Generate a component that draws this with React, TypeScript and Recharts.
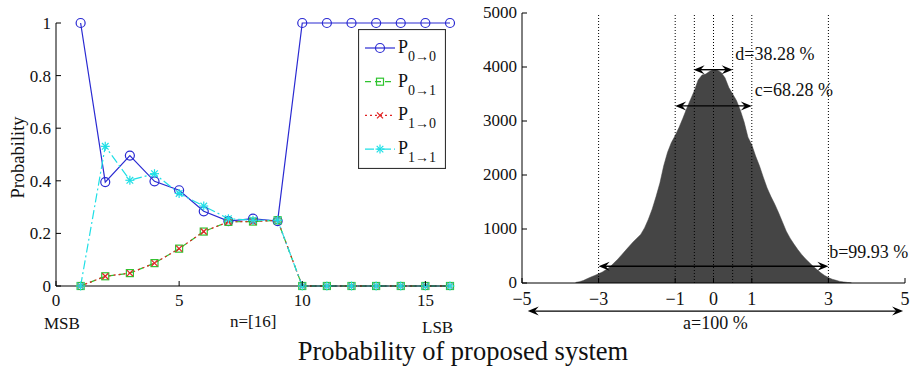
import React from 'react';
import {
  LineChart, Line, XAxis, YAxis, Legend, ComposedChart, Area, ReferenceLine, ReferenceDot,
} from 'recharts';

// ---------- Left chart data ----------
const bitIndex = [1, 2, 3, 4, 5, 6, 7, 8, 9, 10, 11, 12, 13, 14, 15, 16];
const p00 = [1, 0.395, 0.496, 0.398, 0.364, 0.284, 0.247, 0.256, 0.247, 1, 1, 1, 1, 1, 1, 1];
const p01 = [0, 0.037, 0.049, 0.087, 0.142, 0.207, 0.244, 0.245, 0.25, 0, 0, 0, 0, 0, 0, 0];
const p10 = [0, 0.037, 0.049, 0.087, 0.142, 0.207, 0.244, 0.245, 0.25, 0, 0, 0, 0, 0, 0, 0];
const p11 = [0, 0.531, 0.402, 0.427, 0.352, 0.304, 0.256, 0.25, 0.25, 0, 0, 0, 0, 0, 0, 0];
const leftXTicks = [0, 5, 10, 15];
const leftYTicks = [0, 0.2, 0.4, 0.6, 0.8, 1];
const seriesKeys = ['p00', 'p01', 'p10', 'p11'];
const seriesSubs = ['0\u21920', '0\u21921', '1\u21920', '1\u21921'];
const seriesColors = ['#2a2ad2', '#2fc42f', '#e02424', '#1fdfe6'];
const seriesDash = [undefined, '6 4', '2 3', '9 3 2 3'];

// ---------- Right chart data ----------
const histBins = [
  -3.6, -3.5, -3.4, -3.3, -3.2, -3.1, -3.0, -2.9, -2.8, -2.7, -2.6, -2.5, -2.4, -2.3, -2.2, -2.1,
  -2.0, -1.9, -1.8, -1.7, -1.6, -1.5, -1.4, -1.3, -1.2, -1.1, -1.0, -0.9, -0.8, -0.7, -0.6, -0.5,
  -0.4, -0.3, -0.2, -0.1, 0.0, 0.1, 0.2, 0.3, 0.4, 0.5, 0.6, 0.7, 0.8, 0.9, 1.0, 1.1, 1.2, 1.3,
  1.4, 1.5, 1.6, 1.7, 1.8, 1.9, 2.0, 2.1, 2.2, 2.3, 2.4, 2.5, 2.6, 2.7, 2.8, 2.9, 3.0, 3.1, 3.2,
  3.3, 3.4, 3.5, 3.6,
];
const histCounts = [
  10, 25, 45, 80, 110, 140, 170, 205, 250, 300, 370, 440, 520, 600, 680, 760,
  830, 900, 1020, 1180, 1370, 1600, 1850, 2170, 2420, 2600, 2730, 2880, 3050, 3230, 3400, 3560,
  3760, 3850, 3870, 3920, 3950, 3940, 3900, 3800, 3620, 3500, 3380, 3200, 2980, 2700, 2560, 2350, 2170, 1960,
  1760, 1600, 1460, 1300, 1130, 960, 830, 720, 620, 530, 450, 380, 310, 250, 190, 140, 100, 70, 50,
  30, 20, 10, 5,
];
const rightXTicks = [-5, -3, -1, 0, 1, 3, 5];
const rightYTicks = [0, 1000, 2000, 3000, 4000, 5000];
const guideLines = [-3, -1, -0.5, 0, 0.5, 1, 3];
const arrowFrom = [-0.52, -1, -3, -4.85];
const arrowTo = [0.5, 1, 3, 4.95];
const arrowLevel = [3950, 3280, 310, -520];
const arrowLabels = ['d=38.28 %', 'c=68.28 %', 'b=99.93 %', 'a=100 %'];
const labelX = [0.57, 1.08, 3.02, 0.05];
const labelY = [4250, 3590, 590, -730];

const FONT = '"Liberation Serif", "Times New Roman", Times, serif';

const leftData = bitIndex.map((n, i) => ({ n, p00: p00[i], p01: p01[i], p10: p10[i], p11: p11[i] }));
const histData = histBins.map((x, i) => ({ x, count: histCounts[i] }));

const fmtMinus = (v: number) => (v < 0 ? '\u2212' + Math.abs(v) : String(v));

// ---------- markers ----------
const drawMarker = (k: number, cx: number, cy: number, color: string, key?: string) => {
  if (k === 0) return <circle key={key} cx={cx} cy={cy} r={4.5} fill="none" stroke={color} strokeWidth={1.2} />;
  if (k === 1) return <rect key={key} x={cx - 3.5} y={cy - 3.5} width={7} height={7} fill="none" stroke={color} strokeWidth={1.2} />;
  if (k === 2)
    return (
      <g key={key} stroke={color} strokeWidth={1.3}>
        <line x1={cx - 3} y1={cy - 3} x2={cx + 3} y2={cy + 3} />
        <line x1={cx - 3} y1={cy + 3} x2={cx + 3} y2={cy - 3} />
      </g>
    );
  return (
    <g key={key} stroke={color} strokeWidth={1.2}>
      <line x1={cx - 4.5} y1={cy} x2={cx + 4.5} y2={cy} />
      <line x1={cx} y1={cy - 4.5} x2={cx} y2={cy + 4.5} />
      <line x1={cx - 3.3} y1={cy - 3.3} x2={cx + 3.3} y2={cy + 3.3} />
      <line x1={cx - 3.3} y1={cy + 3.3} x2={cx + 3.3} y2={cy - 3.3} />
    </g>
  );
};

const makeDot = (k: number) => (props: any) =>
  drawMarker(k, props.cx, props.cy, seriesColors[k], `dot-${k}-${props.index}`);

// ---------- ticks ----------
const TM_LY = 5;
const TM_LX = 8;
const TM_RY = 5;
const TM_RX = 9;

const leftYTick = (props: any) => {
  const { x, y, payload } = props;
  const ax = x + TM_LY;
  return (
    <g>
      <line x1={ax} x2={ax + 5} y1={y} y2={y} stroke="#000" />
      <text x={x} y={y} dy="0.35em" textAnchor="end" fontSize={17} fontFamily={FONT} fill="#111">
        {String(payload.value)}
      </text>
    </g>
  );
};
const leftXTick = (props: any) => {
  const { x, y, payload } = props;
  const ay = y - TM_LX;
  return (
    <g>
      <line x1={x} x2={x} y1={ay} y2={ay - 5} stroke="#000" />
      <text x={x} y={y} dy="0.71em" textAnchor="middle" fontSize={17} fontFamily={FONT} fill="#111">
        {String(payload.value)}
      </text>
    </g>
  );
};
const rightYTickFor = (tm: number) => (props: any) => {
  const { x, y } = props;
  const ax = x - tm;
  return <line x1={ax} x2={ax - 5} y1={y} y2={y} stroke="#000" />;
};
const topXTickFor = (tm: number) => (props: any) => {
  const { x, y } = props;
  const ay = y + tm;
  return <line x1={x} x2={x} y1={ay} y2={ay + 5} stroke="#000" />;
};
const histYTick = (props: any) => {
  const { x, y, payload } = props;
  const ax = x + TM_RY;
  return (
    <g>
      <line x1={ax} x2={ax + 5} y1={y} y2={y} stroke="#000" />
      <text x={x} y={y} dy="0.3em" textAnchor="end" fontSize={17} fontFamily={FONT} fill="#111">
        {String(payload.value)}
      </text>
    </g>
  );
};
const histXTick = (props: any) => {
  const { x, y, payload } = props;
  const ay = y - TM_RX;
  return (
    <g>
      <line x1={x} x2={x} y1={ay} y2={ay - 5} stroke="#000" />
      <text x={x} y={y} dy="0.71em" textAnchor="middle" fontSize={18} fontFamily={FONT} fill="#111">
        {fmtMinus(payload.value)}
      </text>
    </g>
  );
};

// ---------- legend ----------
const renderLegend = (props: any) => {
  const payload = props.payload || [];
  return (
    <svg width={88} height={140} style={{ display: 'block' }}>
      <rect x={0.5} y={0.5} width={87} height={139} fill="#fff" stroke="#333" strokeWidth={1.2} />
      {payload.map((entry: any, i: number) => {
        let k = seriesKeys.indexOf(entry.dataKey);
        if (k < 0) k = i;
        const cy = 19 + i * 33.7;
        return (
          <g key={`lg-${i}`}>
            <line x1={7} x2={37} y1={cy} y2={cy} stroke={seriesColors[k]} strokeWidth={1.2} strokeDasharray={seriesDash[k]} />
            {drawMarker(k, 22, cy, seriesColors[k])}
            <text x={40} y={cy + 5} fontSize={18} fontFamily={FONT} fill="#111">
              P
              <tspan dx={0} dy={8} fontSize={14}>{seriesSubs[k]}</tspan>
            </text>
          </g>
        );
      })}
    </svg>
  );
};

// ---------- arrow shape ----------
const ArrowShape = (props: any) => {
  const { x1, y1, x2, y2 } = props;
  const lx = Math.min(x1, x2);
  const rx = Math.max(x1, x2);
  const y = y1;
  const L = 11, W = 4.5, N = 7;
  const head = (tx: number, dir: number) =>
    `M${tx},${y} L${tx + dir * L},${y - W} L${tx + dir * N},${y} L${tx + dir * L},${y + W} Z`;
  return (
    <g>
      <line x1={lx + 4} x2={rx - 4} y1={y} y2={y2} stroke="#000" strokeWidth={1.4} />
      <path d={head(lx, 1)} fill="#000" />
      <path d={head(rx, -1)} fill="#000" />
    </g>
  );
};

const yLabel = (props: any) => {
  const vb = props.viewBox || { x: 16, y: 23, width: 40, height: 263 };
  const cx = vb.x + 2;
  const cy = vb.y + vb.height / 2 + 3;
  return (
    <text x={cx} y={cy} transform={`rotate(-90 ${cx} ${cy})`} textAnchor="middle" dominantBaseline="central"
      fontSize={18.5} fontFamily={FONT} fill="#111">
      Probability
    </text>
  );
};

const textStyle: React.CSSProperties = { position: 'absolute', fontFamily: FONT, color: '#111', whiteSpace: 'nowrap', lineHeight: 1.15 };

export default function App() {
  return (
    <div style={{ position: 'absolute', left: 0, top: 0, width: 911, height: 367, background: '#fff', overflow: 'hidden' }}>
      <div style={{ position: 'absolute', left: 0, top: 0 }}>
        <LineChart width={460} height={330} data={leftData} margin={{ top: 23, right: 10, left: 16, bottom: 14 }}>
          <XAxis xAxisId={0} dataKey="n" type="number" domain={[0, 16]} ticks={leftXTicks} tickSize={0} tickMargin={TM_LX}
            tickLine={false} tick={leftXTick} height={30} stroke="#000" interval={0} />
          <XAxis xAxisId="top" orientation="top" type="number" domain={[0, 16]} ticks={leftXTicks} tickSize={0} tickMargin={2}
            tickLine={false} tick={topXTickFor(2)} height={0} stroke="#000" interval={0} />
          <YAxis yAxisId={0} type="number" domain={[0, 1]} ticks={leftYTicks} tickSize={0} tickMargin={TM_LY}
            tickLine={false} tick={leftYTick} width={40} stroke="#000" interval={0} label={yLabel} />
          <YAxis yAxisId="right" orientation="right" type="number" domain={[0, 1]} ticks={leftYTicks} tickSize={0} tickMargin={2}
            tickLine={false} tick={rightYTickFor(2)} width={0} stroke="#000" interval={0} />
          <Legend layout="vertical" align="center" verticalAlign="middle" content={renderLegend}
            wrapperStyle={{ position: 'absolute', left: 358, top: 29, width: 88, height: 140 }} />
          {seriesKeys.map((key, k) => (
            <Line key={key} dataKey={key} name={'P' + seriesSubs[k]} type="linear" stroke={seriesColors[k]} strokeWidth={1.2}
              strokeDasharray={seriesDash[k]} dot={makeDot(k)} activeDot={false} isAnimationActive={false} />
          ))}
        </LineChart>
      </div>

      <div style={{ position: 'absolute', left: 460, top: 0 }}>
        <ComposedChart width={451} height={345} data={histData} margin={{ top: 13, right: 6, left: 12, bottom: 37 }}>
          <XAxis xAxisId={0} dataKey="x" type="number" domain={[-5, 5]} ticks={rightXTicks} tickSize={0} tickMargin={TM_RX}
            tickLine={false} tick={histXTick} height={25} stroke="#000" interval={0} />
          <XAxis xAxisId="top" orientation="top" type="number" domain={[-5, 5]} ticks={rightXTicks} tickSize={0} tickMargin={2}
            tickLine={false} tick={topXTickFor(2)} height={0} stroke="#000" interval={0} />
          <YAxis yAxisId={0} type="number" domain={[0, 5000]} ticks={rightYTicks} tickSize={0} tickMargin={TM_RY}
            tickLine={false} tick={histYTick} width={50} stroke="#000" interval={0} />
          <YAxis yAxisId="right" orientation="right" type="number" domain={[0, 5000]} ticks={rightYTicks} tickSize={0} tickMargin={2}
            tickLine={false} tick={rightYTickFor(2)} width={0} stroke="#000" interval={0} />
          <Area dataKey="count" type="linear" fill="#454545" fillOpacity={1} stroke="#454545" strokeWidth={0.5}
            isAnimationActive={false} activeDot={false} dot={false} />
          {guideLines.map((v) => (
            <ReferenceLine key={`g${v}`} x={v} stroke="#000" strokeDasharray="1 2" strokeWidth={1} />
          ))}
          {arrowFrom.map((f, i) => (
            <ReferenceLine key={`a${i}`} segment={[{ x: f, y: arrowLevel[i] }, { x: arrowTo[i], y: arrowLevel[i] }]}
              ifOverflow="visible" stroke="#000" shape={ArrowShape} />
          ))}
          {arrowLabels.map((t, i) => (
            <ReferenceDot key={`l${i}`} x={labelX[i]} y={labelY[i]} r={0} fill="none" stroke="none" ifOverflow="visible"
              label={{ value: t, position: i === 3 ? 'center' : 'right', offset: 0, fontSize: 18, fontFamily: FONT, fill: '#111' }} />
          ))}
        </ComposedChart>
      </div>

      <div style={{ ...textStyle, left: 44, top: 314, fontSize: 17 }}>MSB</div>
      <div style={{ ...textStyle, left: 230, top: 312, fontSize: 17 }}>n=[16]</div>
      <div style={{ ...textStyle, left: 422, top: 318, fontSize: 17 }}>LSB</div>
      <div style={{ ...textStyle, left: 0, width: 926, textAlign: 'center', top: 336, fontSize: 26.5 }}>
        Probability of proposed system
      </div>
    </div>
  );
}
